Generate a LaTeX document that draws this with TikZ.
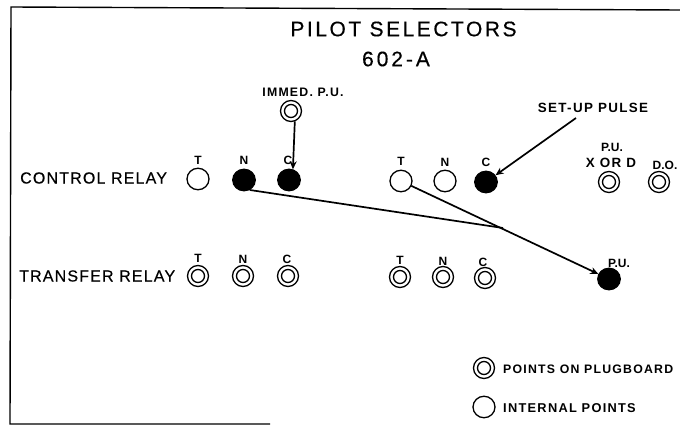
\documentclass[tikz,border=0pt]{standalone}
\usepackage{fontspec}
\setmainfont{Liberation Sans}
\newfontfamily\regsp[LetterSpace=12,FakeBold=0.4]{Liberation Sans}
\newfontfamily\subsp[LetterSpace=14,FakeBold=0.4]{Liberation Sans}
\newfontfamily\midsp[LetterSpace=7.3,FakeBold=0.4]{Liberation Sans}
\newfontfamily\boldsp[LetterSpace=10]{Liberation Sans Bold}
\usetikzlibrary{arrows.meta,shapes.geometric}
\tikzset{
  x=1pt,y=-1pt,
  lbl/.style={inner sep=0pt,font=\boldsp\fontsize{12.3}{14}\selectfont},
  setlbl/.style={inner sep=0pt,font=\boldsp\fontsize{13.4}{15}\selectfont},
  pin/.style={inner sep=0pt,font=\bfseries\fontsize{12}{14}\selectfont},
  rowlbl/.style={inner sep=0pt,anchor=west,font=\midsp\fontsize{16}{18}\selectfont},
  openpt/.style={ellipse,draw=black,line width=1.3pt,fill=white,inner sep=0pt,minimum width=21pt,minimum height=19pt},
  blackpt/.style={ellipse,draw=black,line width=1.3pt,fill=black,inner sep=0pt,minimum width=21pt,minimum height=19pt},
  plugpt/.style={circle,draw=black,line width=1.3pt,fill=white,inner sep=0pt,minimum size=21pt,
    path picture={\draw[line width=1.3pt] (path picture bounding box.center) circle[radius=6.5pt];}},
  wire/.style={draw=black,line width=1.7pt},
  arrowed/.style={wire,-{Stealth[length=8pt,width=7pt]}},
}
\tikzset{
  openpt/.append style={minimum height=21.5pt,minimum width=22pt},
  blackpt/.append style={minimum height=21.5pt,minimum width=22.5pt},
}
\begin{document}
\begin{tikzpicture}
\useasboundingbox (0,0) rectangle (680,425);
\fill[white] (0,0) rectangle (680,425);
% frame
\coordinate (fb) at (270,424);
\coordinate (fbl) at (10,424);
\coordinate (ftl) at (11,7);
\coordinate (ftr) at (680,10);
\draw[line width=1.4pt,black] (fb) -- (fbl) -- (ftl) -- (ftr);
% titles
\node[inner sep=0pt,font=\regsp\fontsize{21}{24}\selectfont] (title) at (403.5,29) {PILOT SELECTORS};
\node[inner sep=0pt,font=\subsp\fontsize{21}{24}\selectfont] (sub) at (396,59) {602-A};
% row labels
\node[rowlbl] (crl) at (20,178) {CONTROL RELAY};
\node[rowlbl] (trl) at (19,276) {TRANSFER RELAY};
% control row
\node[openpt] (ct1) at (198,179) {};
\node[blackpt] (cn1) at (244,180) {};
\node[blackpt] (cc1) at (289,180) {};
\node[openpt] (ct2) at (401,181) {};
\node[openpt] (cn2) at (445,181) {};
\node[blackpt] (cc2) at (486,182) {};
\node[pin] (lct1) at (198,160) {T};
\node[pin] (lcn1) at (244,160) {N};
\node[pin] (lcc1) at (288,160) {C};
\node[pin] (lct2) at (401,161) {T};
\node[pin] (lcn2) at (445,162) {N};
\node[pin] (lcc2) at (486,162) {C};
% transfer row
\node[plugpt] (tt1) at (198,276) {};
\node[plugpt] (tn1) at (243,276) {};
\node[plugpt] (tc1) at (288,276) {};
\node[plugpt] (tt2) at (400,277) {};
\node[plugpt] (tn2) at (443,277) {};
\node[plugpt] (tc2) at (485,278) {};
\node[pin] (ltt1) at (198,258) {T};
\node[pin] (ltn1) at (243,259) {N};
\node[pin] (ltc1) at (287,259) {C};
\node[pin] (ltt2) at (400,260) {T};
\node[pin] (ltn2) at (443,261) {N};
\node[pin] (ltc2) at (483,262) {C};
% immediate pick up
\node[plugpt] (imm) at (291,111) {};
\node[lbl] (limm) at (303,92) {IMMED. P.U.};
% right side
\node[plugpt] (xod) at (609,182) {};
\node[plugpt] (dro) at (659,182) {};
\node[blackpt] (pu) at (609,279) {};
\node[pin] (lpu1) at (612,147) {P.U.};
\node[setlbl] (lxod) at (611,163) {X OR D};
\node[pin] (ldo) at (665,165) {D.O.};
\node[pin] (lpu2) at (619,263) {P.U.};
\node[setlbl] (lset) at (593,108) {SET-UP PULSE};
\coordinate (setend) at (576,118);
% legend
\node[plugpt] (leg1) at (484,368) {};
\node[openpt] (leg2) at (484,407) {};
\node[lbl,anchor=west] (tleg1) at (503,369) {POINTS ON PLUGBOARD};
\node[setlbl,anchor=west,font=\boldsp\fontsize{12.8}{15}\selectfont] (tleg2) at (503,408) {INTERNAL POINTS};
% connectors
\coordinate (junc) at (503,228);
\draw[arrowed] (imm.-70) -- (cc1.70);
\draw[arrowed] (setend) -- (cc2);
\draw[wire] (cn1.-60) -- (junc);
\draw[arrowed] (ct2) -- (pu);
\end{tikzpicture}
\end{document}
